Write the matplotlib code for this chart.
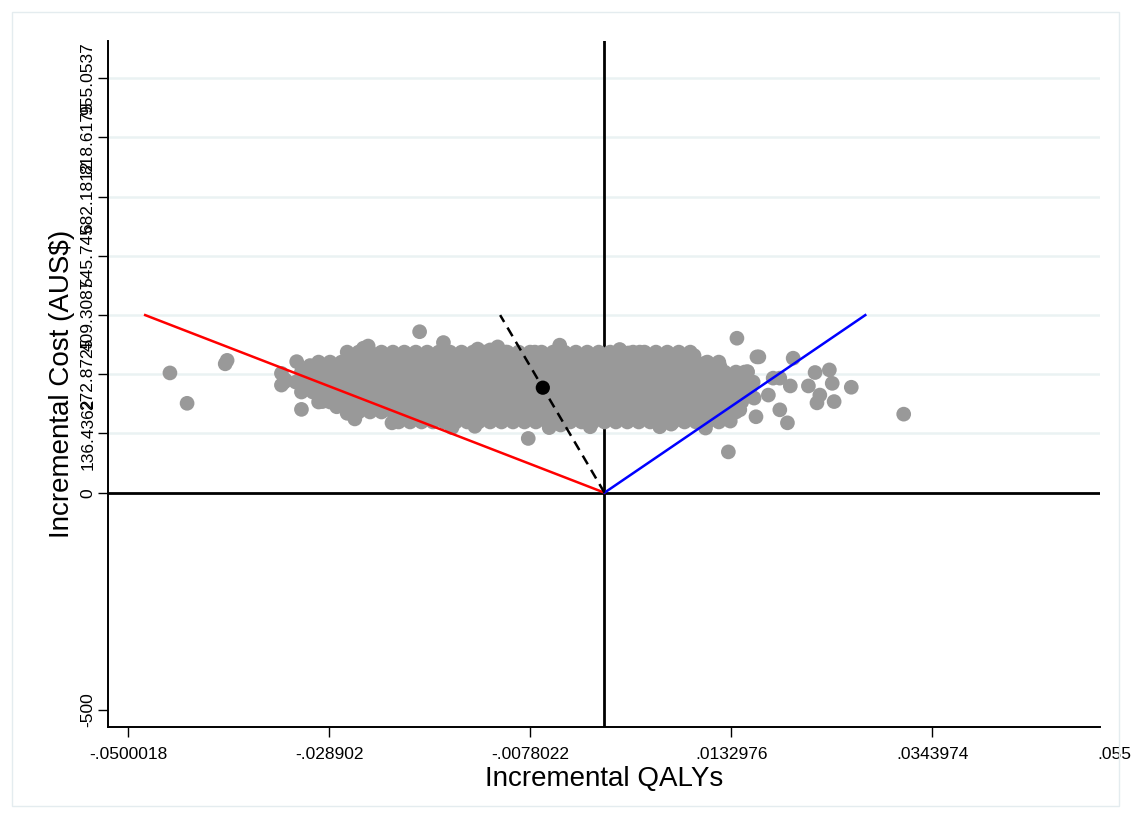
import matplotlib
matplotlib.use("Agg")
import matplotlib.pyplot as plt
from matplotlib.patches import Rectangle

plt.rcParams["font.family"] = ["Liberation Sans", "DejaVu Sans"]

# ---- axis ticks ----
qaly_ticks = [-0.0500018, -0.028902, -0.0078022, 0.0132976, 0.0343974]
qaly_tick_labels = ["-.0500018", "-.028902", "-.0078022", ".0132976", ".0343974"]
qaly_last_tick = 0.0554972
cost_ticks = [-500, 0, 136.4362, 272.8725, 409.3087, 545.745, 682.1812, 818.6175, 955.0537]
cost_tick_labels = ["-500", "0", "136.4362", "272.8725", "409.3087", "545.745",
                    "682.1812", "818.6175", "955.0537"]

# ---- bootstrap replicates (dense core, listed by cost band) ----
band_costs = [324, 301, 278, 255, 232, 209, 186, 163]
band1_qaly = [-0.0270, -0.0258, -0.0246, -0.0234, -0.0222, -0.0210, -0.0198, -0.0186,
              -0.0174, -0.0162, -0.0150, -0.0138, -0.0126, -0.0114, -0.0102, -0.0090,
              -0.0078, -0.0066, -0.0054, -0.0042, -0.0030, -0.0018, -0.0006, 0.0006,
              0.0018, 0.0030, 0.0042, 0.0054, 0.0066, 0.0078, 0.0090]
band2_qaly = [-0.0300, -0.0288, -0.0276, -0.0264, -0.0252, -0.0240, -0.0228, -0.0216,
              -0.0204, -0.0192, -0.0180, -0.0168, -0.0156, -0.0144, -0.0132, -0.0120,
              -0.0108, -0.0096, -0.0084, -0.0072, -0.0060, -0.0048, -0.0036, -0.0024,
              -0.0012, 0.0000, 0.0012, 0.0024, 0.0036, 0.0048, 0.0060, 0.0072,
              0.0084, 0.0096, 0.0108, 0.0120]
band3_qaly = [-0.0318, -0.0306, -0.0294, -0.0282, -0.0270, -0.0258, -0.0246, -0.0234,
              -0.0222, -0.0210, -0.0198, -0.0186, -0.0174, -0.0162, -0.0150, -0.0138,
              -0.0126, -0.0114, -0.0102, -0.0090, -0.0078, -0.0066, -0.0054, -0.0042,
              -0.0030, -0.0018, -0.0006, 0.0006, 0.0018, 0.0030, 0.0042, 0.0054,
              0.0066, 0.0078, 0.0090, 0.0102, 0.0114, 0.0126, 0.0138, 0.0150]
band4_qaly = [-0.0336, -0.0324, -0.0312, -0.0300, -0.0288, -0.0276, -0.0264, -0.0252,
              -0.0240, -0.0228, -0.0216, -0.0204, -0.0192, -0.0180, -0.0168, -0.0156,
              -0.0144, -0.0132, -0.0120, -0.0108, -0.0096, -0.0084, -0.0072, -0.0060,
              -0.0048, -0.0036, -0.0024, -0.0012, 0.0000, 0.0012, 0.0024, 0.0036,
              0.0048, 0.0060, 0.0072, 0.0084, 0.0096, 0.0108, 0.0120, 0.0132,
              0.0144, 0.0156]
band5_qaly = [-0.0318, -0.0306, -0.0294, -0.0282, -0.0270, -0.0258, -0.0246, -0.0234,
              -0.0222, -0.0210, -0.0198, -0.0186, -0.0174, -0.0162, -0.0150, -0.0138,
              -0.0126, -0.0114, -0.0102, -0.0090, -0.0078, -0.0066, -0.0054, -0.0042,
              -0.0030, -0.0018, -0.0006, 0.0006, 0.0018, 0.0030, 0.0042, 0.0054,
              0.0066, 0.0078, 0.0090, 0.0102, 0.0114, 0.0126, 0.0138, 0.0150]
band6_qaly = [-0.0300, -0.0288, -0.0276, -0.0264, -0.0252, -0.0240, -0.0228, -0.0216,
              -0.0204, -0.0192, -0.0180, -0.0168, -0.0156, -0.0144, -0.0132, -0.0120,
              -0.0108, -0.0096, -0.0084, -0.0072, -0.0060, -0.0048, -0.0036, -0.0024,
              -0.0012, 0.0000, 0.0012, 0.0024, 0.0036, 0.0048, 0.0060, 0.0072,
              0.0084, 0.0096, 0.0108, 0.0120, 0.0132, 0.0144]
band7_qaly = [-0.0270, -0.0258, -0.0246, -0.0234, -0.0222, -0.0210, -0.0198, -0.0186,
              -0.0174, -0.0162, -0.0150, -0.0138, -0.0126, -0.0114, -0.0102, -0.0090,
              -0.0078, -0.0066, -0.0054, -0.0042, -0.0030, -0.0018, -0.0006, 0.0006,
              0.0018, 0.0030, 0.0042, 0.0054, 0.0066, 0.0078, 0.0090, 0.0102,
              0.0114, 0.0126, 0.0138]
band8_qaly = [-0.0216, -0.0204, -0.0192, -0.0180, -0.0168, -0.0156, -0.0144, -0.0132,
              -0.0120, -0.0108, -0.0096, -0.0084, -0.0072, -0.0060, -0.0048, -0.0036,
              -0.0024, -0.0012, 0.0000, 0.0012, 0.0024, 0.0036, 0.0048, 0.0060,
              0.0072, 0.0084, 0.0096, 0.0108, 0.0120]

# ---- bootstrap replicates (edges and outliers) ----
edge_qaly = [-0.0456, -0.0438, -0.0398, -0.0396, -0.0323, -0.0309, -0.0339, -0.0339,
             -0.0318, -0.0318, -0.0296, -0.0335, -0.0194, -0.0169, -0.0223, -0.0253,
             -0.0267, -0.0281, -0.0270, -0.0239, -0.0211, -0.0235, -0.0217, -0.0204,
             -0.0183, -0.0133, -0.0120, -0.0104, -0.0088, -0.0073, -0.0047, -0.0031,
             0.0006, 0.0025, 0.0037, 0.0053, 0.0085, 0.0106, 0.0121, 0.0147,
             -0.0080, 0.0130, -0.0136, -0.0046, -0.0015, 0.0058, 0.0106, 0.0132,
             0.0139, 0.0160, 0.0162, 0.0198, 0.0221, 0.0236, 0.0239, 0.0214,
             0.0259, 0.0226, 0.0223, 0.0241, 0.0314, 0.0195, 0.0184, 0.0177,
             0.0172, 0.0184, 0.0192, 0.0159, 0.0150, 0.0153, 0.0157, 0.0142,
             -0.0262, -0.0248, -0.0160, -0.0112, -0.0058, 0.0016, 0.0070, 0.0094]
edge_cost = [276, 206, 297, 305, 302, 293, 275, 248,
             260, 192, 210, 260, 371, 346, 161, 333,
             313, 198, 183, 198, 183, 313, 310, 317,
             313, 331, 329, 324, 317, 324, 340, 310,
             315, 322, 324, 315, 301, 299, 292, 278,
             125, 94, 153, 156, 152, 152, 149, 165,
             356, 313, 313, 310, 277, 283, 252, 246,
             243, 225, 207, 210, 181, 246, 264, 264,
             225, 191, 161, 175, 279, 241, 218, 191,
             170, 338, 150, 336, 150, 330, 158, 316]

# ---- point estimate and reference rays ----
mean_qaly = -0.00647
mean_cost = 242
red_ray_qaly = [0, -0.0482]
red_ray_cost = [0, 409.3087]
blue_ray_qaly = [0, 0.02737]
blue_ray_cost = [0, 409.3087]
mean_ray_qaly = [0, -0.01095]
mean_ray_cost = [0, 409.3087]

bands = [band1_qaly, band2_qaly, band3_qaly, band4_qaly,
         band5_qaly, band6_qaly, band7_qaly, band8_qaly]
sim_qaly, sim_cost = [], []
for cost, qalys in zip(band_costs, bands):
    sim_qaly += qalys
    sim_cost += [cost] * len(qalys)
sim_qaly += edge_qaly
sim_cost += edge_cost

fig = plt.figure(figsize=(11.31, 8.18), dpi=100)
ax = fig.add_axes([108 / 1131, 91 / 818, 992 / 1131, 686 / 818])

# light outer frame of the graph region
fig.patches.append(Rectangle((12 / 1131, 12 / 818), 1107 / 1131, 794 / 818,
                             transform=fig.transFigure, fill=False,
                             edgecolor="#e4ecef", lw=1.0))

for t in cost_ticks:
    if t > 0:
        ax.axhline(t, color="#eaf2f3", lw=1.8, zorder=0)

ax.axhline(0, color="black", lw=2.0, zorder=1)
ax.axvline(0, color="black", lw=2.0, zorder=1)

ax.scatter(sim_qaly, sim_cost, s=112, color="#999999", edgecolors="none", zorder=2)

ax.plot(red_ray_qaly, red_ray_cost, color="#ff0000", lw=1.8, zorder=3)
ax.plot(blue_ray_qaly, blue_ray_cost, color="#0000ff", lw=1.8, zorder=3)
ax.plot(mean_ray_qaly, mean_ray_cost, color="black", lw=1.8, ls=(0, (4, 2.6)), zorder=3)
ax.scatter([mean_qaly], [mean_cost], s=105, color="black", edgecolors="none", zorder=4)

ax.set_xlim(-0.0521, 0.0520)
ax.set_ylim(-540, 1041)

ax.set_xticks(qaly_ticks)
ax.set_xticklabels(qaly_tick_labels)
ax.set_yticks(cost_ticks)
ax.set_yticklabels(cost_tick_labels, rotation=90, va="center")
ax.tick_params(direction="out", length=7.2, width=1.0, labelsize=12.5)
ax.tick_params(axis="x", pad=7)
ax.tick_params(axis="y", pad=2)

# last tick label runs off the right edge of the figure
ax.annotate(".0554972", xy=(qaly_last_tick, 0), xycoords=ax.get_xaxis_transform(),
            xytext=(0, -14.2), textcoords="offset points",
            ha="center", va="top", fontsize=12.5, annotation_clip=False)

for side in ("top", "right"):
    ax.spines[side].set_visible(False)
for side in ("left", "bottom"):
    ax.spines[side].set_linewidth(1.4)

ax.set_xlabel("Incremental QALYs", fontsize=20, labelpad=3)
ax.set_ylabel("Incremental Cost (AUS$)", fontsize=20, labelpad=4)

fig.savefig("out.png", dpi=100)
